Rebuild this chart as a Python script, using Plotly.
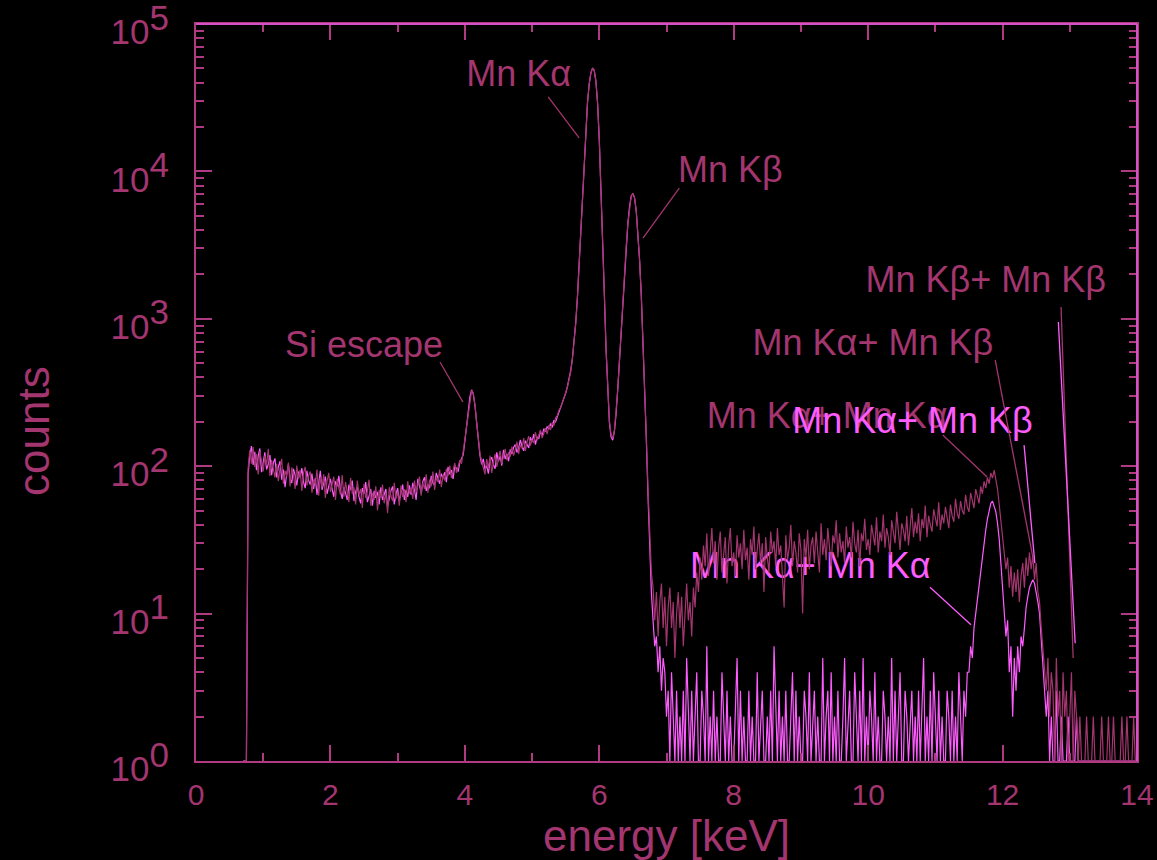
import plotly.graph_objects as go

# ---------------------------------------------------------------------------
# Mn X-ray spectra: channel grid (keV) and counts per channel
# ---------------------------------------------------------------------------
E_START = 0.700      # energy of first channel, keV
E_STEP = 0.025       # channel width, keV
N_CHANNELS = 533

# spectrum with strong pile-up continuum (dark trace)
counts_a = [
    1, 1, 1, 96, 128, 104, 135, 99, 121, 88, 126, 107, 92, 118, 101, 131, 86, 110, 97, 84,
    104, 79, 97, 112, 76, 93, 85, 106, 73, 98, 88, 70, 101, 82, 94, 68, 90, 99, 74, 86,
    92, 66, 81, 75, 95, 63, 84, 72, 88, 61, 79, 90, 67, 76, 85, 59, 82, 71, 64, 87,
    62, 78, 68, 57, 83, 65, 72, 55, 80, 64, 70, 52, 76, 61, 68, 81, 54, 66, 59, 73,
    50, 69, 61, 75, 56, 66, 48, 72, 63, 58, 77, 60, 67, 54, 74, 62, 70, 57, 79, 65,
    71, 60, 80, 67, 74, 85, 63, 77, 70, 88, 66, 81, 73, 92, 69, 84, 78, 95, 72, 87,
    80, 96, 86, 101, 83, 94, 105, 90, 99, 110, 104, 126, 155, 192, 240, 292, 326, 314, 262, 200,
    158, 122, 108, 96, 88, 112, 97, 118, 90, 106, 121, 99, 113, 127, 104, 119, 131, 110, 124, 116,
    136, 118, 129, 147, 121, 140, 132, 155, 127, 146, 160, 138, 151, 144, 170, 149, 162, 176, 155, 168,
    181, 165, 190, 176, 198, 188, 214, 220, 241, 250, 272, 288, 318, 342, 388, 436, 532, 676, 935, 1400,
    2300, 4000, 7200, 12500, 20000, 29500, 39000, 46500, 50000, 48500, 41000, 29000, 16500, 8200, 3600, 1500, 640, 330, 205, 165,
    155, 175, 230, 330, 520, 850, 1350, 2100, 3100, 4400, 5800, 6800, 7100, 6600, 5400, 3900, 2500, 1450, 750, 360,
    160, 70, 32, 19, 15, 9, 14, 7, 12, 16, 8, 13, 6, 11, 15, 8, 12, 5, 10, 14,
    8, 13, 6, 11, 16, 9, 12, 7, 15, 11, 19, 14, 24, 17, 29, 21, 35, 18, 27, 38,
    22, 31, 17, 28, 36, 19, 25, 33, 16, 29, 38, 21, 26, 18, 34, 24, 30, 20, 37, 23,
    28, 17, 32, 25, 39, 20, 27, 35, 22, 30, 14, 33, 24, 19, 36, 26, 31, 21, 38, 25,
    29, 18, 11, 34, 23, 28, 40, 21, 31, 26, 19, 35, 27, 10, 32, 24, 37, 20, 29, 33,
    22, 36, 27, 19, 41, 25, 32, 23, 38, 28, 21, 34, 30, 43, 24, 35, 26, 31, 22, 39,
    28, 33, 24, 42, 30, 26, 37, 21, 35, 31, 44, 27, 32, 25, 40, 34, 29, 45, 26, 36,
    31, 47, 28, 38, 33, 25, 43, 36, 30, 49, 34, 27, 41, 37, 31, 46, 29, 39, 52, 33,
    42, 35, 48, 31, 44, 38, 54, 33, 46, 40, 36, 51, 43, 39, 57, 37, 47, 41, 53, 45,
    38, 55, 46, 42, 60, 48, 44, 58, 50, 47, 64, 53, 49, 66, 57, 52, 70, 61, 56, 73,
    65, 79, 71, 84, 76, 90, 83, 94, 80, 70, 55, 42, 33, 25, 20, 24, 15, 21, 13, 19,
    14, 20, 12, 18, 22, 15, 24, 18, 26, 20, 25, 17, 22, 14, 12, 8, 6, 4, 3, 5,
    2, 4, 3, 1, 5, 2, 3, 1, 4, 2, 3, 1, 2, 4, 1, 3, 2, 1, 2, 1,
    1, 1, 2, 1, 1, 1, 2, 1, 1, 1, 1, 2, 1, 1, 1, 2, 1, 1, 2, 1,
    1, 1, 1, 2, 1, 1, 2, 1, 1, 1, 2, 1, 1,
]

# spectrum with weak pile-up (bright trace)
counts_b = [
    1, 1, 1, 88, 119, 137, 102, 125, 94, 117, 132, 91, 109, 124, 95, 103, 119, 87, 105, 113,
    84, 99, 108, 81, 95, 72, 89, 103, 83, 77, 96, 87, 74, 92, 84, 97, 78, 71, 93, 80,
    75, 89, 70, 83, 64, 80, 93, 69, 77, 85, 65, 74, 82, 70, 62, 79, 73, 86, 68, 60,
    72, 66, 59, 75, 69, 80, 58, 67, 73, 62, 56, 71, 65, 78, 57, 63, 70, 54, 68, 61,
    67, 55, 72, 59, 64, 70, 53, 61, 68, 73, 55, 64, 71, 58, 66, 75, 59, 69, 62, 74,
    64, 77, 69, 59, 82, 72, 66, 79, 84, 68, 75, 71, 86, 77, 74, 90, 81, 76, 89, 83,
    91, 78, 99, 88, 94, 82, 101, 97, 92, 106, 114, 119, 147, 186, 236, 296, 330, 309, 258, 196,
    149, 118, 103, 112, 95, 101, 89, 109, 115, 102, 96, 124, 108, 117, 101, 129, 112, 121, 108, 130,
    121, 134, 140, 124, 132, 151, 136, 127, 149, 141, 133, 157, 146, 165, 140, 158, 153, 172, 161, 180,
    172, 186, 178, 195, 183, 205, 200, 216, 232, 246, 266, 284, 312, 346, 394, 446, 540, 690, 945, 1410,
    2320, 4050, 7250, 12600, 20100, 29600, 39200, 46600, 50200, 48300, 40800, 28800, 16300, 8100, 3550, 1480, 630, 320, 198, 158,
    150, 172, 226, 336, 515, 860, 1340, 2120, 3080, 4420, 5780, 6820, 7080, 6620, 5380, 3880, 2480, 1440, 740, 350,
    150, 62, 26, 14, 9, 6, 7, 4, 6, 3, 5, 4, 2, 3, 1, 4, 2, 1, 3, 1,
    2, 1, 3, 1, 5, 2, 1, 3, 1, 2, 4, 1, 1, 3, 2, 1, 6, 1, 2, 1,
    3, 1, 2, 1, 1, 4, 2, 1, 3, 1, 2, 1, 1, 2, 5, 1, 3, 1, 2, 1,
    1, 3, 1, 2, 1, 1, 4, 1, 2, 3, 1, 1, 2, 1, 3, 1, 6, 2, 1, 3,
    1, 2, 1, 3, 1, 1, 2, 4, 1, 3, 1, 2, 1, 1, 3, 2, 1, 4, 1, 2,
    3, 1, 2, 1, 1, 5, 1, 2, 3, 1, 4, 1, 2, 1, 3, 1, 1, 2, 5, 1,
    2, 3, 1, 1, 4, 2, 1, 3, 1, 5, 1, 2, 1, 3, 2, 1, 4, 1, 2, 1,
    1, 3, 2, 1, 2, 1, 5, 1, 3, 1, 2, 4, 1, 1, 3, 2, 1, 2, 3, 1,
    2, 1, 3, 1, 2, 5, 1, 2, 1, 3, 1, 4, 2, 1, 3, 1, 2, 1, 1, 3,
    2, 1, 3, 1, 2, 1, 4, 2, 1, 3, 2, 4, 4, 6, 5, 8, 10, 13, 16, 20,
    24, 30, 37, 44, 51, 56, 58, 54, 49, 41, 32, 22, 15, 11, 7, 9, 4, 6, 2, 5,
    3, 6, 4, 7, 6, 8, 11, 13, 15, 16, 17, 16, 14, 12, 10, 7, 5, 3, 2, 3,
    1, 2, 1, 1, 3, 1, 1, 2, 1, 1, 1, 2, 1, 1, 1, 1, 2, 1, 1, 1,
    1, 1, 1, 1, 1, 1, 1, 1, 1, 1, 1, 1, 1, 1, 1, 1, 1, 1, 1, 1,
    1, 1, 1, 1, 1, 1, 1, 1, 1, 1, 1, 1, 1,
]

energy = [round(E_START + E_STEP * i, 3) for i in range(N_CHANNELS)]

# axis ticks
x_ticks = [0, 2, 4, 6, 8, 10, 12, 14]
y_tick_vals = [1, 10, 100, 1000, 10000, 100000]
y_tick_exps = [0, 1, 2, 3, 4, 5]

# ---------------------------------------------------------------------------
# styling
# ---------------------------------------------------------------------------
DARK = "#a3356f"      # dark trace, labels
BRIGHT = "#ff5cff"    # bright trace
FRAME = "#b03a82"
FRAME_HI = "#d552c6"
FONT = "Liberation Sans, Arial, sans-serif"
LABEL_SIZE = 36
YTICK_SIZE = 35

# peak labels: (text, x keV, y counts, colour)
labels = [
    ("Si escape", 2.50, 638, DARK),
    ("Mn K\u03b1", 4.80, 43700, DARK),
    ("Mn K\u03b2", 7.95, 9750, DARK),
    ("Mn K\u03b2+ Mn K\u03b2", 11.75, 1750, DARK),
    ("Mn K\u03b1+ Mn K\u03b2", 10.07, 654, DARK),
    ("Mn K\u03b1+ Mn K\u03b1", 9.39, 209, DARK),
    ("Mn K\u03b1+ Mn K\u03b2", 10.66, 193, BRIGHT),
    ("Mn K\u03b1+ Mn K\u03b1", 9.14, 20.1, BRIGHT),
]

# leader lines from labels to peaks: (x0, y0, x1, y1, colour)
leaders = [
    (3.63, 509, 3.97, 273, DARK),
    (5.24, 32000, 5.70, 16900, DARK),
    (7.19, 7710, 6.65, 3530, DARK),
    (12.87, 1202, 13.05, 5.0, DARK),
    (12.83, 951, 13.08, 6.3, BRIGHT),
    (11.89, 526, 12.45, 24.2, DARK),
    (12.32, 139, 12.48, 22.0, BRIGHT),
    (11.11, 163, 11.77, 84.5, DARK),
    (10.92, 15.1, 11.53, 8.4, BRIGHT),
]

fig = go.Figure()

# labels sit underneath the spectra
for colour in (DARK, BRIGHT):
    sel = [lab for lab in labels if lab[3] == colour]
    fig.add_trace(go.Scatter(
        x=[lab[1] for lab in sel],
        y=[lab[2] for lab in sel],
        text=[lab[0] for lab in sel],
        mode="text",
        textposition="middle center",
        textfont=dict(family=FONT, size=LABEL_SIZE, color=colour),
        hoverinfo="skip",
        showlegend=False,
    ))

fig.add_trace(go.Scatter(
    x=energy, y=counts_b, mode="lines",
    line=dict(color=BRIGHT, width=1.2),
    showlegend=False,
))
fig.add_trace(go.Scatter(
    x=energy, y=counts_a, mode="lines",
    line=dict(color=DARK, width=1.2),
    showlegend=False,
))

for x0, y0, x1, y1, colour in leaders:
    fig.add_shape(type="line", xref="x", yref="y",
                  x0=x0, y0=y0, x1=x1, y1=y1,
                  line=dict(color=colour, width=1.3))

# brighter top and right frame edges
fig.add_shape(type="line", xref="paper", yref="paper", x0=0, x1=1, y0=1, y1=1,
              line=dict(color=FRAME_HI, width=2))
fig.add_shape(type="line", xref="paper", yref="paper", x0=1, x1=1, y0=0, y1=1,
              line=dict(color=FRAME_HI, width=2))

# vertical axis title
fig.add_annotation(text="counts", xref="paper", yref="paper", x=-0.172, y=0.448,
                   xanchor="center", yanchor="middle",
                   textangle=-90, showarrow=False,
                   font=dict(family=FONT, size=44, color=DARK))

tick_common = dict(ticks="inside", ticklen=16, tickwidth=1.5, mirror="allticks",
                   showgrid=False, zeroline=False, showline=True, linewidth=2,
                   automargin=False, ticklabeloverflow="allow")

y_tick_text = [
    f'10<sup><span style="font-size:{YTICK_SIZE}px">{k}</span></sup>' for k in y_tick_exps
]

fig.update_layout(
    template="none",
    width=1157, height=860,
    margin=dict(l=196, r=20, t=24, b=99),
    paper_bgcolor="black", plot_bgcolor="black",
    font=dict(family=FONT, color=DARK),
    showlegend=False,
    xaxis=dict(
        range=[0, 14], tickvals=x_ticks, ticktext=[str(v) for v in x_ticks],
        tickcolor=FRAME, linecolor=FRAME,
        minor=dict(ticks="inside", ticklen=8, tickwidth=1.5, dtick=1,
                   tickcolor=FRAME, showgrid=False),
        tickfont=dict(size=30, color=DARK),
        ticklabelstandoff=6,
        title=dict(text="energy [keV]", font=dict(size=44, color=DARK), standoff=2),
        **tick_common,
    ),
    yaxis=dict(
        type="log", range=[0, 5.000001],
        tickvals=y_tick_vals, ticktext=y_tick_text,
        tickcolor=FRAME, linecolor=FRAME,
        minor=dict(ticks="inside", ticklen=8, tickwidth=1.5, dtick="D1",
                   tickcolor=FRAME, showgrid=False),
        tickfont=dict(size=YTICK_SIZE, color=DARK),
        ticklabelstandoff=18,
        ticklabelshift=8,
        **tick_common,
    ),
)

fig.write_html("out.html")
